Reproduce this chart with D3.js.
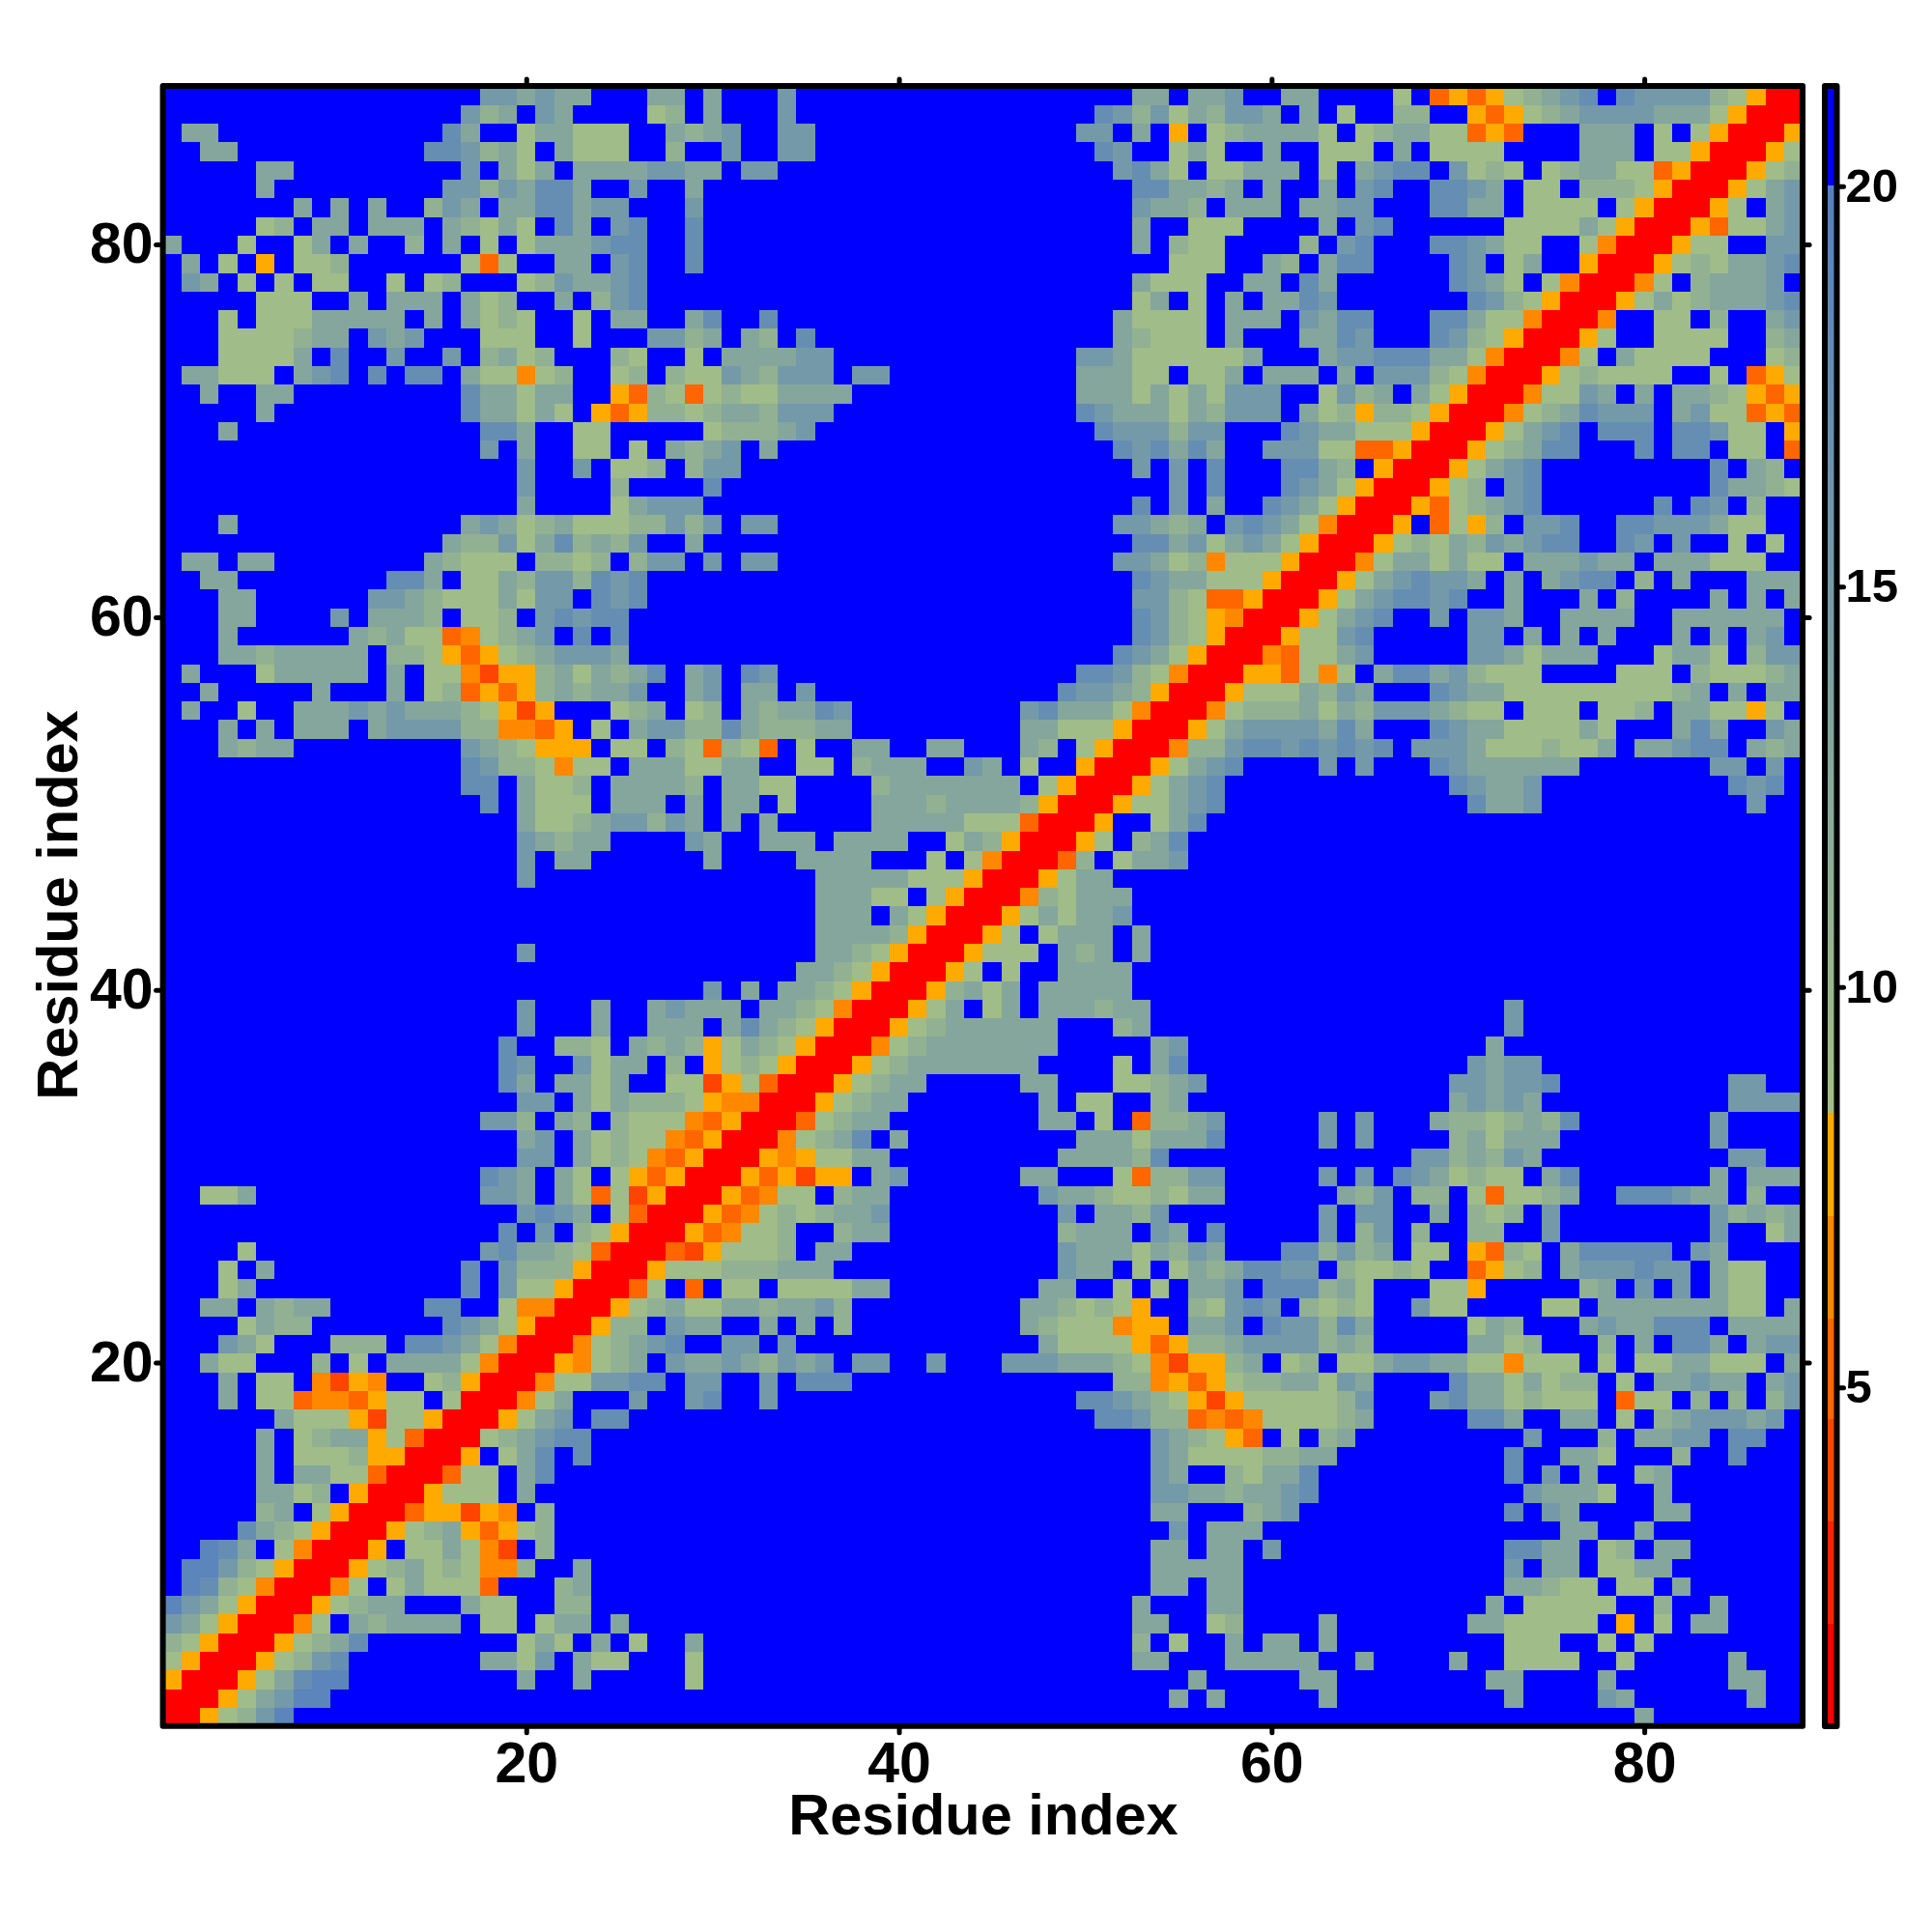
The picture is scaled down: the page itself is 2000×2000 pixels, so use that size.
<!DOCTYPE html>
<html>
<head>
<meta charset="utf-8">
<script src="https://cdn.jsdelivr.net/npm/d3@7/dist/d3.min.js"></script>
<style>
html,body{margin:0;padding:0;background:#fff}
text{font-family:"Liberation Sans",Arial,sans-serif;font-weight:bold;fill:#000}
</style>
</head>
<body>
<svg id="chart" width="2000" height="2000"></svg>
<script>
// Symmetric distance matrix, lower triangle. Entry i is residue y=i+1.
// Each entry: "startColumn:levels" groups, "." = beyond cutoff.
const distanceRows = [
"1:004abdf 80:c",
"2:004acdff 55:c 57:c 63:c 73:c 78:dc 86:c",
"3:004aceff 20:c 23:c 29:a 56:c 62:cc 72:cc 78:c 85:cc",
"4:004abde 18:ccad.caa 29:a 53:cc 58:ccccc 65:c 70:c 73:aaaa 79:a 85:c",
"5:004abce 20:aca.c 26:a 29:c 53:b 55:a 58:c 60:cc 63:c 73:aaa 78:a 80:a",
"6:003a.cbcccc 18:aa 21:acc 25:c 53:cc 57:ab 63:c 71:cc 73:aaaaa 79:4 81:a 83:cc",
"7:004abcc 17:caa 22:bb 53:c 57:cc 72:c 74:aaaaa 81:b 84:c",
"8:003a.acaaa2 22:bc 54:cc 57:cc 73:ccbaa 79:aa 82:c",
"9:004abcaba33b 23:c 54:ccccc 73:d 75:cc 78:aacc",
"10:004.aaca31.b 54:cc 57:cc 60:d 73:eecc 78:ab 81:cc",
"11:004abc424ab 55:d 57:ccc 76:cc 80:c",
"12:002441 18:43.b 54:cc 59:bcd 73:e 75:dc 81:cc",
"13:004aaa.c 54:ddccbccde 74:dccca 81:c",
"14:002aa.ce 54:dc..bacce 73:e 75:d 77:c 80:bc",
"15:004.ace.e 54:dcaaaabbcc 73:e 76:cca 82:b 85:e",
"16:00abcdee 54:dcba42.a.bc 74:d 78:b 80:ccdd 85:ee",
"17:004acd.ee 51:eedbb2323aaaabc 71:eec 76:cc 79:a 81:bcdddcd",
"18:003ac 26:d 29:de 33:d 50:eedcba414aaaaabd 69:deccabaaa.2aa.b.b.bd",
"19:003aaddee.dd..d.eee 52:bb3424abbccadc 70:eccacabb.a.ccdcc.cd",
"20:0043abc.dccdcbdcd.dd 42:d 46:dddcccba3144bc.ab.aacddccaa3aaa.a.aaccaaa.c",
"21:003abcde..dd.d 48:caaaa424bbcddddbcb 71:ccab 78:b.c.eec.cdd",
"22:004bb.dcc..c.c.b 47:cbaaa344.ccd.eddbec 71:acb 77:cdcceee.cccc",
"23:004abcaaccbccdb 47:ccbaba4..baded.baba..daa 75:aa.ccccccc 85:aa.c",
"24:002a.2.aa.aaaacc 48:cc..a.a.ccd.eeebca 69:aa4 77:bc.d.d.caa",
"25:004aaabbbccc 49:dcc.a.acbceedd.baaba..24ab.cddded d.caa",
"26:00214aaab.cc 49:dcccacbdc 61:eebdbc.aa.42ba.ceeeee 83:dc",
"27:00423aab..bcc 49:bccc.dc.e 63:d.bd.b 71:bb 75:d 84:d 87:ac",
"28:00423ababccd 49:d.ccbd 63:d.dd 69:c 71:bab 75:d 84:dbcbc",
"29:00423aa.bcc 48:dccbaabacc 64:cbd 68:bb 71:a2aabc 79:eeedcc.b",
"30:00424144.cd 47:cc 52:a2bbdd 63:d 65:d 67:edcabaa.ce 84:c 86:ccc",
"31:00434aacc 49:ccccbe 68:ddbcbdc 85:dd",
"32:003abce.c 50:cccaccce 63:d 65:d 70:bcaccc 84:d",
"33:002abcc 48:cc.a.2bbcd 63:d 65:d 69:cbbabcbe 84:d",
"34:004abcc 48:c 50:aa 54:bc 70:cdcdc 85:dddd",
"35:004abcc 47:cc 52:aabcd 70:ddcdde 85:dd",
"36:004abccccccc 52:a 54:ce 71:dcdd",
"37:003abccccccc 54:cd 72:c",
"38:004abcccccc 52:bc 73:d",
"39:004ac.ac.cccbcc 73:d",
"40:004bcac 48:ccccc",
"41:004a.a..cccc",
"42:004aaa.cbc.c",
"43:004a.accc.c",
"44:004acaccd",
"45:003baccc",
"46:004acc",
"47:002b.accd",
"48:004a.bce",
"49:004..ace",
"50:004aacde 71:eccd 86:d",
"51:004acde 70:edccd 85:ede",
"52:004acde 63:d 65:d 69:edcccccc 84:dd 87:d",
"53:003bbdeededede.dddcaaabaac.ccdee.cbc",
"54:004acddddcec 69:edccaaaaca 82:cec 87:dc",
"55:003abbbcacbdddcbaa.aaa.aab.ccaa4a",
"56:004aaacbdc 69:edccaaaaaaaaabc.c.cc",
"57:00442a3a.ceecdbaaa 79:aaa.baaabc",
"58:0032aacd 71:ddcaccc 81:acca.bdd",
"59:004aade 71:dd.c.c.c 82:c.c.cd",
"60:004acde..d.ddc..cccc..cccccc",
"61:004acdeede..c...c.b 84:c.c.c",
"62:004acdeddc.c.cdee.b.c...ccc",
"63:003accacaa.cccdcc.cccaaa",
"64:004abacbdcdee..ed.d..a.a",
"65:004.2a4b.dde..eedddcaa",
"66:0042abcde 81:e.ed.b",
"67:004ab.de 84:eccba",
"68:004acde 84:e.cb",
"69:004abcee 80:e.ee.aa.2",
"70:004acde.eee.eedaa.4",
"71:003abceddd.cdaa242",
"72:003aadc.c.ccba424",
"73:004abaaaa..a.24a",
"74:003a.caaaa 87:ab",
"75:004a..aaaa..bc",
"76:003..aa.b..cd",
"77:004acabcccde",
"78:003a.bcccd",
"79:004abaccde",
"80:004aa..dd",
"81:0042aacd",
"82:004a.cd",
"83:004acd",
"84:004ab",
"85:004a",
"86:004",
"87:00",
"88:0"
];
const levelValues = {"0":1.4,"1":4.0,"2":5.2,"3":6.5,"4":7.8,
  a:9,b:11,c:13,d:15.5,e:17.5,f:19,".":21};
const axisTicks = [20,40,60,80];
const barTicks = [5,10,15,20];
const axisTitle = "Residue index";
const N = 88;

const x = d3.scaleLinear().domain([0.5,N+0.5]).range([168.6,1866.1]);
const y = d3.scaleLinear().domain([0.5,N+0.5]).range([1786.7,89.1]);
const barY = d3.scaleLinear().domain([0.77,21.25]).range([1787,89]);

const warmBands = d3.scaleThreshold()
  .domain([2.05,3.32,4.6,5.87,7.15])
  .range(["#ff0000","#ff2200","#ff4400","#ff6600","#ff8800","#ffaa00"]);
const coolRamp = d3.scaleLinear().domain([8.43,20]).range(["#a4bf85","#5580c0"]);
const color = v => v < 8.43 ? warmBands(v) : v < 20 ? coolRamp(v) : "#0000ff";

// parse rows into cells
const cells = new Map();
distanceRows.forEach((row,i)=>{
  const r = i+1;
  const parts = row.match(/\d+:[^:]*?(?=\s+\d+:|$)/g) || [];
  parts.forEach(p=>{
    const k = p.indexOf(":");
    const start = +p.slice(0,k);
    const chars = p.slice(k+1).replace(/\s+/g,"");
    [...chars].forEach((ch,j)=>{
      const c = start+j;
      if(c>N || c<r) return;
      const v = levelValues[ch];
      cells.set(c+"_"+r,v); cells.set(r+"_"+c,v);
    });
  });
});
const grid = [];
for(let r=1;r<=N;r++) for(let c=1;c<=N;c++){
  const v = cells.get(c+"_"+r);
  grid.push({c,r,v: v===undefined ? levelValues["."] : v});
}

const svg = d3.select("#chart");
svg.append("g").attr("shape-rendering","crispEdges")
  .selectAll("rect").data(grid).join("rect")
  .attr("x",d=>x(d.c-0.5)).attr("y",d=>y(d.r+0.5))
  .attr("width",d=>x(d.c+0.5)-x(d.c-0.5)+0.5)
  .attr("height",d=>y(d.r-0.5)-y(d.r+0.5)+0.5)
  .attr("fill",d=>color(d.v));

function styleAxis(g,fs){
  g.select(".domain").remove();
  g.selectAll(".tick line").attr("stroke","#000").attr("stroke-width",5).attr("stroke-linecap","round");
  g.selectAll(".tick text").attr("font-size",fs).attr("fill","#000")
    .style("font-family",'"Liberation Sans",Arial,sans-serif').style("font-weight","bold");
}
const frame = (x0,y0,w,h)=>svg.append("rect").attr("x",x0).attr("y",y0).attr("width",w).attr("height",h)
  .attr("fill","none").attr("stroke","#000").attr("stroke-width",6).attr("stroke-linejoin","round");

svg.append("g").attr("transform",`translate(0,${y(0.5)})`)
  .call(d3.axisBottom(x).tickValues(axisTicks).tickSize(7).tickPadding(9).tickFormat(d3.format("d")))
  .call(g=>styleAxis(g,59));
svg.append("g").attr("transform",`translate(${x(0.5)},0)`)
  .call(d3.axisLeft(y).tickValues(axisTicks).tickSize(7).tickPadding(3).tickFormat(d3.format("d")))
  .call(g=>styleAxis(g,59));
svg.append("g").attr("transform",`translate(0,${y(N+0.5)})`)
  .call(d3.axisTop(x).tickValues(axisTicks).tickSize(7).tickFormat(""))
  .call(g=>styleAxis(g,59));
svg.append("g").attr("transform",`translate(${x(N+0.5)},0)`)
  .call(d3.axisRight(y).tickValues(axisTicks).tickSize(7).tickFormat(""))
  .call(g=>styleAxis(g,59));
frame(x(0.5),y(N+0.5),x(N+0.5)-x(0.5),y(0.5)-y(N+0.5));

svg.append("text").attr("x",1018).attr("y",1899).attr("text-anchor","middle").attr("font-size",59.5).text(axisTitle);
svg.append("text").attr("transform","translate(80,937) rotate(-90)").attr("text-anchor","middle").attr("font-size",59.5).text(axisTitle);

// colour bar
const barVals = d3.range(0.77,21.25,0.02);
svg.append("g").attr("shape-rendering","crispEdges").selectAll("rect").data(barVals).join("rect")
  .attr("x",1889).attr("width",12.5)
  .attr("y",d=>barY(d+0.02)).attr("height",d=>barY(d)-barY(d+0.02)+0.5)
  .attr("fill",d=>color(d));
svg.append("g").attr("transform","translate(1901.5,0)")
  .call(d3.axisRight(barY).tickValues(barTicks).tickSize(7).tickPadding(2).tickFormat(d3.format("d")))
  .call(g=>styleAxis(g,49));
frame(1889,89,12.5,1698);
</script>
</body>
</html>
